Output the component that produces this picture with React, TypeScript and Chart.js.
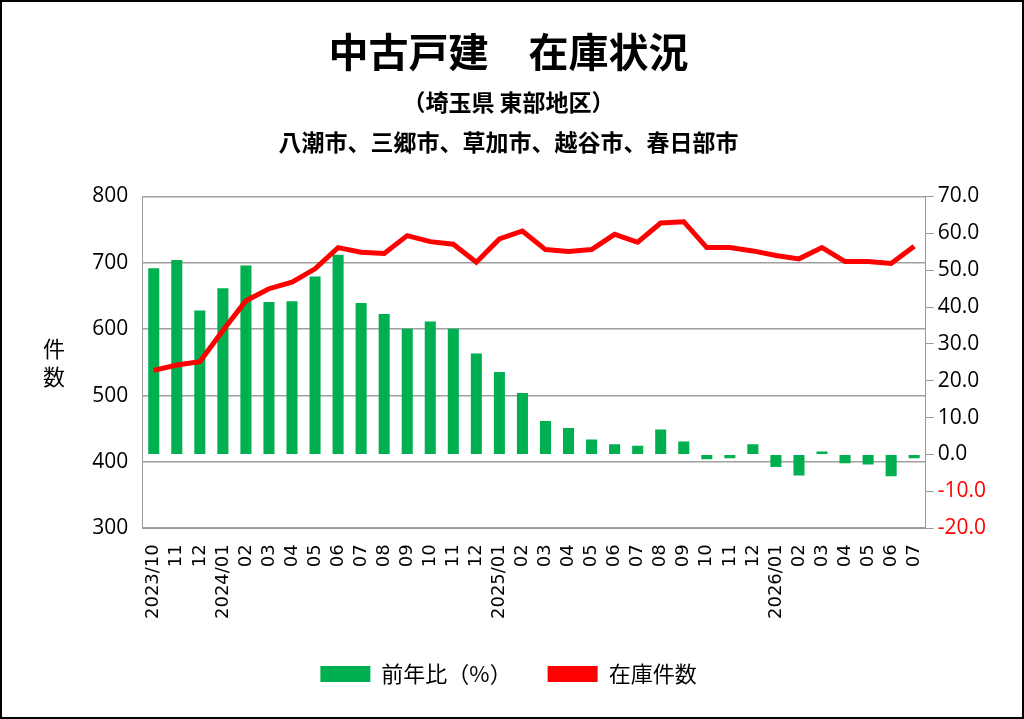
import React, { useRef, useEffect } from 'react';
import Chart from 'chart.js/auto';

const labels = [
  '2023/10', '11', '12',
  '2024/01', '02', '03', '04', '05', '06', '07', '08', '09', '10', '11', '12',
  '2025/01', '02', '03', '04', '05', '06', '07', '08', '09', '10', '11', '12',
  '2026/01', '02', '03', '04', '05', '06', '07',
];

// 前年比（%）
const yoyPct = [
  50.5, 52.8, 39.1, 45.1, 51.3, 41.4, 41.6, 48.3, 54.2, 41.1, 38.1, 34.1, 36.1, 34.1, 27.4, 22.4, 16.7,
  9.1, 7.2, 4.1, 2.8, 2.4, 6.8, 3.5, -1.3, -1.0, 2.8, -3.4, -5.7, 0.8, -2.4, -2.7, -5.9, -1.0,
];

// 在庫件数
const stockCount = [
  538, 546, 551, 598, 643, 661, 671, 691, 723, 716, 714, 741, 732, 728, 701, 736, 748,
  720, 717, 720, 743, 731, 760, 762, 723, 723, 718, 711, 706, 723, 702, 702, 699, 725,
];

const JP = '"Noto Sans CJK JP", "Noto Sans", sans-serif';
const NUM = '"Open Sans", "Liberation Sans", sans-serif';

const App: React.FC = () => {
  const canvasRef = useRef<HTMLCanvasElement>(null);

  useEffect(() => {
    if (!canvasRef.current) return;
    const chart = new Chart(canvasRef.current, {
      type: 'bar',
      data: {
        labels,
        datasets: [
          {
            type: 'line',
            label: '在庫件数',
            data: stockCount,
            yAxisID: 'y',
            borderColor: '#ff0000',
            backgroundColor: '#ff0000',
            borderWidth: 5,
            pointRadius: 0,
            tension: 0,
            order: 0,
          },
          {
            type: 'bar',
            label: '前年比（%）',
            data: yoyPct,
            yAxisID: 'y1',
            backgroundColor: '#00b050',
            barPercentage: 0.48,
            categoryPercentage: 1,
            order: 1,
          },
        ],
      },
      options: {
        animation: false,
        responsive: false,
        layout: { padding: { left: 25, right: 32, top: 10, bottom: 22 } },
        plugins: {
          title: {
            display: true,
            text: '中古戸建　在庫状況',
            color: '#000',
            font: { family: JP, size: 40, weight: 'bold' },
            padding: { top: 16, bottom: 6 },
          },
          subtitle: {
            display: true,
            text: ['（埼玉県 東部地区）', '八潮市、三郷市、草加市、越谷市、春日部市'],
            color: '#000',
            font: { family: JP, size: 23, weight: 'bold', lineHeight: 1.75 },
            padding: { bottom: 34 },
          },
          legend: {
            position: 'bottom',
            reverse: true,
            labels: {
              color: '#000',
              font: { family: JP, size: 22 },
              boxWidth: 50,
              boxHeight: 16,
              padding: 36,
              generateLabels: (c) => {
                const items = Chart.defaults.plugins.legend.labels.generateLabels(c);
                return items.map((it) => {
                  if (it.text === '在庫件数') {
                    return { ...it, lineWidth: 0, fillStyle: '#ff0000', strokeStyle: '#ff0000' };
                  }
                  return it;
                });
              },
            },
          },
          tooltip: { enabled: false },
        },
        scales: {
          x: {
            offset: true,
            grid: { display: false },
            border: { color: '#999' },
            ticks: {
              autoSkip: false,
              maxRotation: 90,
              minRotation: 90,
              color: '#000',
              padding: 8,
              font: { family: '"DejaVu Sans", sans-serif', size: 18 },
            },
          },
          y: {
            position: 'left',
            min: 300,
            max: 800,
            ticks: { stepSize: 100, color: '#000', font: { family: NUM, size: 21 }, padding: 14 },
            grid: { color: '#a0a0a0', lineWidth: 1.5, drawTicks: false },
            border: { color: '#999', display: true },
            title: { display: true, text: ' ', font: { size: 36 } },
          },
          y1: {
            position: 'right',
            min: -20,
            max: 70,
            ticks: {
              stepSize: 10,
              callback: (v) => Number(v).toFixed(1),
              color: (ctx) => ((ctx.tick && ctx.tick.value < 0) ? '#ff0000' : '#000'),
              font: { family: NUM, size: 21 },
              padding: 4,
            },
            grid: { drawOnChartArea: false, color: '#999', tickLength: 8 },
            border: { color: '#999' },
          },
        },
      },
      plugins: [
        {
          id: 'yTitle',
          afterDraw: (c) => {
            const ctx = c.ctx;
            ctx.save();
            ctx.fillStyle = '#000';
            ctx.font = `22px ${JP}`;
            ctx.textAlign = 'center';
            ctx.textBaseline = 'middle';
            const cy = (c.chartArea.top + c.chartArea.bottom) / 2;
            ctx.fillText('件', 52, cy - 14);
            ctx.fillText('数', 52, cy + 14);
            ctx.restore();
          },
        },
      ],
    });
    return () => chart.destroy();
  }, []);

  return (
    <div style={{ position: 'fixed', inset: 0, background: '#fff', border: '2px solid #000', boxSizing: 'border-box' }}>
      <canvas ref={canvasRef} width={1020} height={715} />
    </div>
  );
};

export default App;
